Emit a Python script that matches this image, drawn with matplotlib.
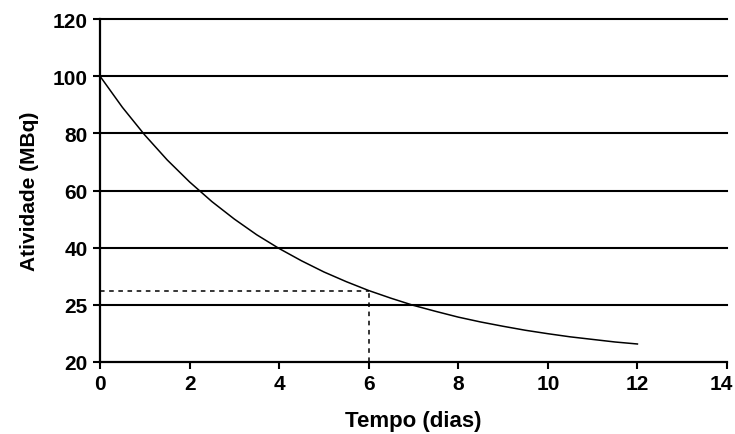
import matplotlib
matplotlib.use("Agg")
import matplotlib.pyplot as plt
import matplotlib.transforms as mtransforms

# time in days and activity (plotted on the linear 0-120 scale)
tempo = [0, 0.5, 1, 1.5, 2, 2.5, 3, 3.5, 4, 4.5, 5, 5.5, 6,
         6.5, 7, 7.5, 8, 8.5, 9, 9.5, 10, 10.5, 11, 11.5, 12]
atividade = [100, 89.1, 79.4, 70.7, 63.0, 56.1, 50.0, 44.5, 39.7, 35.4, 31.5, 28.1, 25.0,
             22.3, 19.8, 17.7, 15.7, 14.0, 12.5, 11.1, 9.9, 8.8, 7.9, 7.0, 6.3]

# marked point at 6 days
t_marca = 6
a_marca = 25.0

# y axis: evenly spaced positions, labels as printed in the original
y_pos = [0, 20, 40, 60, 80, 100, 120]
y_labels = ['20', '25', '40', '60', '80', '100', '120']
x_ticks = [0, 2, 4, 6, 8, 10, 12, 14]

plt.rcParams['font.family'] = ['Liberation Sans', 'DejaVu Sans']

fig = plt.figure(figsize=(7.35, 4.35), dpi=100)
ax = fig.add_axes([100/735, 1 - 363/435, 627/735, 343/435])

for y in y_pos[1:]:
    ax.axhline(y, color='black', lw=1.5, zorder=1, clip_on=False)

ax.plot(tempo, atividade, color='black', lw=1.1, zorder=3)
ax.plot([0, t_marca], [a_marca, a_marca], color='black', lw=1.1, ls=(0, (3, 3)), zorder=2)
ax.plot([t_marca, t_marca], [0, a_marca], color='black', lw=1.1, ls=(0, (3, 3)), zorder=2)

ax.set_xlim(0, 14)
ax.set_ylim(0, 120)
ax.set_xticks(x_ticks)
ax.set_yticks(y_pos)
ax.set_yticklabels(y_labels)

for s in ['top', 'right']:
    ax.spines[s].set_visible(False)
for s in ['left', 'bottom']:
    ax.spines[s].set_linewidth(1.6)
    ax.spines[s].set_color('black')

ax.tick_params(axis='both', direction='out', length=5, width=1.5, labelsize=15, pad=4)
for lab in ax.get_xticklabels() + ax.get_yticklabels():
    lab.set_fontweight('bold')

# the last x label sits right at the figure edge, nudge it in a bit
last = ax.get_xticklabels()[-1]
last.set_transform(last.get_transform() + mtransforms.ScaledTranslation(-4/72, 0, fig.dpi_scale_trans))

ax.set_xlabel('Tempo (dias)', fontsize=16, fontweight='bold', labelpad=12)
ax.set_ylabel('Atividade (MBq)', fontsize=15, fontweight='bold', labelpad=10)

fig.savefig('out.png', dpi=100)
